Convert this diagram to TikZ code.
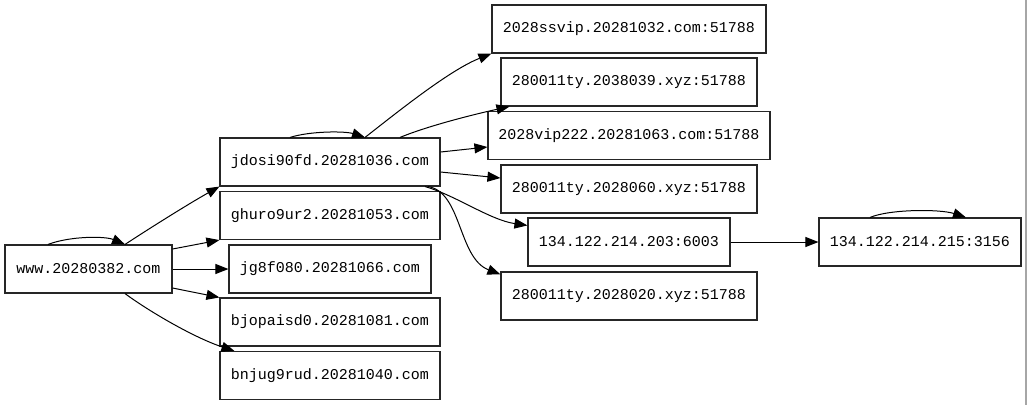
\documentclass[tikz,border=0pt]{standalone}
\usepackage{fontspec}
\newfontfamily\monof{Liberation Mono}
\usetikzlibrary{arrows.meta,calc}
\begin{document}
\begin{tikzpicture}[x=0.75pt,y=-0.75pt,
  box/.style={draw=black!85,line width=0.85pt,rectangle,inner sep=0pt,minimum height=36pt,font=\monof\fontsize{11.25pt}{13pt}\selectfont},
  edge/.style={draw=black,line width=0.75pt,-{Triangle[length=9.75pt,width=7.5pt]}}]
\useasboundingbox (0,0) rectangle (1027,405);
\fill[white] (0,0) rectangle (1027,405);
\draw[black!35,line width=0.9pt] (1026,0) -- (1026,405);

\node[box,minimum width=125.25pt] (www) at (88.5,269) {www.20280382.com};
\node[box,minimum width=165pt] (jdosi) at (330,162) {jdosi90fd.20281036.com};
\node[box,minimum width=165pt] (ghuro) at (330,215.5) {ghuro9ur2.20281053.com};
\node[box,minimum width=151.5pt] (jg) at (330,269) {jg8f080.20281066.com};
\node[box,minimum width=165pt] (bjop) at (330,322) {bjopaisd0.20281081.com};
\node[box,minimum width=165pt] (bnjug) at (330,375.5) {bnjug9rud.20281040.com};
\node[box,minimum width=205.5pt] (ssvip) at (629,29) {2028ssvip.20281032.com:51788};
\node[box,minimum width=192pt] (t39) at (629,82) {280011ty.2038039.xyz:51788};
\node[box,minimum width=211.5pt] (vip) at (629,135.5) {2028vip222.20281063.com:51788};
\node[box,minimum width=192pt] (t60) at (629,189) {280011ty.2028060.xyz:51788};
\node[box,minimum width=151.5pt] (ipa) at (629,242) {134.122.214.203:6003};
\node[box,minimum width=192pt] (t20) at (629,296) {280011ty.2028020.xyz:51788};
\node[box,minimum width=151.5pt] (ipb) at (920,242) {134.122.214.215:3156};

% www edges
\draw[edge] ($(www.north)+(-40.5,0)$) .. controls (70,236) and (105,236) .. ($(www.north)+(36.5,0)$);
\draw[edge] ($(www.north)+(36.5,0)$) .. controls (150,228) and (190,203) .. (jdosi.south west);
\draw[edge] ($(www.east)+(0,-20)$) -- ($(ghuro.south west)+(0,0)$);
\draw[edge] (www.east) -- (jg.west);
\draw[edge] ($(www.east)+(0,19)$) -- (bjop.north west);
\draw[edge] ($(www.south)+(36.5,0)$) .. controls (150,312) and (195,338) .. ($(bnjug.north west)+(15,0)$);

% jdosi edges
\draw[edge] ($(jdosi.north)+(-40,0)$) .. controls (310,131) and (345,131) .. ($(jdosi.north)+(35,0)$);
\draw[edge] ($(jdosi.north)+(35,0)$) .. controls (400,110) and (450,70) .. ($(ssvip.south west)+(0,0)$);
\draw[edge] ($(jdosi.north)+(70,0)$) .. controls (430,125) and (480,113) .. ($(t39.south west)+(9,0)$);
\draw[edge] ($(jdosi.east)+(0,-10)$) -- ($(vip.west)+(0,11.5)$);
\draw[edge] ($(jdosi.east)+(0,10)$) -- ($(t60.west)+(0,-11)$);
\draw[edge] ($(jdosi.south)+(95,0)$) .. controls (455,195) and (490,220) .. ($(ipa.north west)+(0,8)$);
\draw[edge] ($(jdosi.south)+(98,0)$) .. controls (462,192) and (458,258) .. ($(t20.north west)+(0,3)$);

% ip edges
\draw[edge] (ipa.east) -- (ipb.west);
\draw[edge] ($(ipb.north)+(-50,0)$) .. controls (890,209) and (940,209) .. ($(ipb.north)+(46,0)$);
\end{tikzpicture}
\end{document}
